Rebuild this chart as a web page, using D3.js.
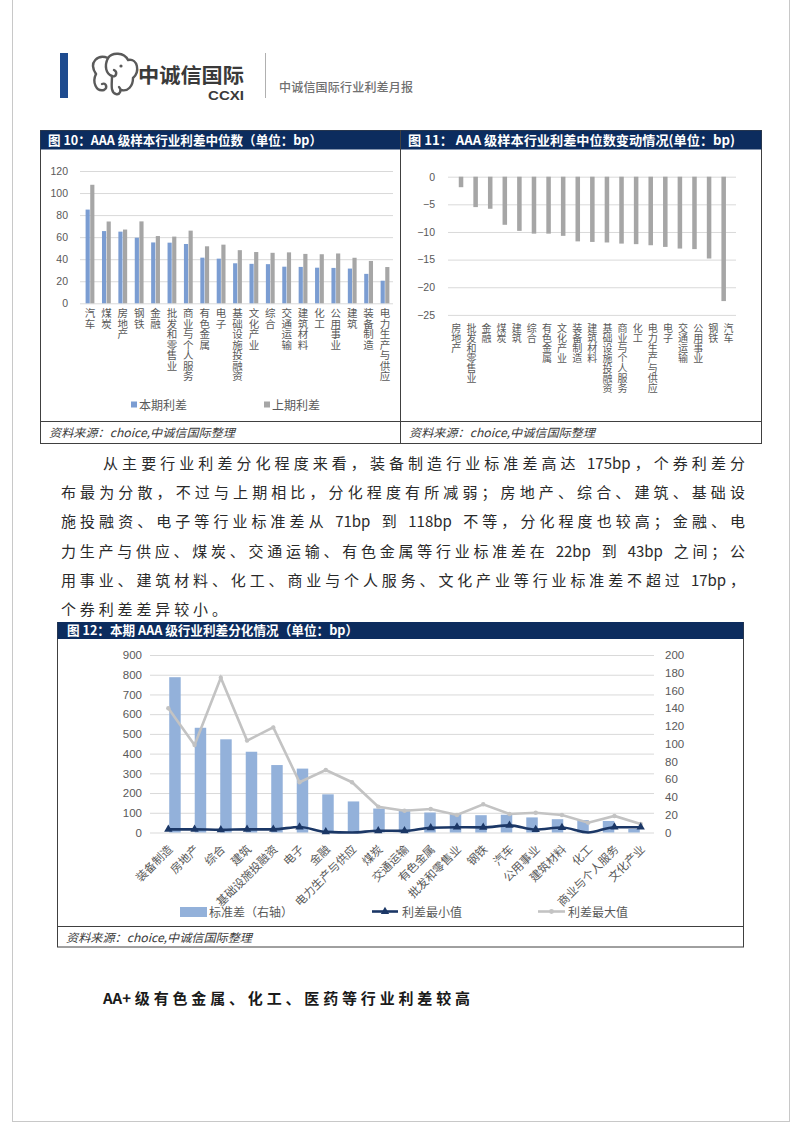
<!DOCTYPE html>
<html><head><meta charset="utf-8">
<script src="https://cdn.jsdelivr.net/npm/d3@7"></script>
<style>body{margin:0;background:#fff} svg{display:block} .vt{writing-mode:vertical-rl;text-orientation:upright}</style>
</head><body><svg id="c" width="802" height="1133"></svg>
<script>
// ---------- data ----------
const cats10 = ["汽车","煤炭","房地产","钢铁","金融","批发和零售业","商业与个人服务","有色金属","电子","基础设施投融资","文化产业","综合","交通运输","建筑材料","化工","公用事业","建筑","装备制造","电力生产与供应"];
const cur10  = [85,65.5,65,59.5,55.2,55,53.8,41.4,40.5,36.3,35.8,35.5,33.2,33,32.3,32.1,31.5,26.7,20.5];
const prev10 = [107.5,74.2,66.9,74.3,61,60.5,65.9,51.7,53.2,48.2,46.5,45.8,46.2,44.8,44.5,45.2,41.3,38.4,32.9];
const ticks10 = [0,20,40,60,80,100,120];
const legend10 = ["本期利差","上期利差"];

const cats11 = ["房地产","批发和零售业","金融","煤炭","建筑","综合","有色金属","文化产业","装备制造","建筑材料","基础设施投融资","商业与个人服务","化工","电力生产与供应","电子","交通运输","公用事业","钢铁","汽车"];
const chg11  = [-1.9,-5.5,-5.8,-8.7,-9.8,-10.3,-10.3,-10.7,-11.7,-11.8,-11.9,-12.1,-12.2,-12.4,-12.7,-13.0,-13.1,-14.8,-22.5];
const ticks11 = [0,-5,-10,-15,-20,-25];

const cats12 = ["装备制造","房地产","综合","建筑","基础设施投融资","电子","金融","电力生产与供应","煤炭","交通运输","有色金属","批发和零售业","钢铁","汽车","公用事业","建筑材料","化工","商业与个人服务","文化产业"];
const std12  = [175,118,105,91,76,72,43,35,27,26,22.5,21,19.5,20,17,15,14,13,4];
const min12  = [16,16,14,16,16,28,3,0,9,8,24,27,26,36,15,25,0,27,27];
const max12  = [630,444,785,466,533,255,317,255,131,110,119,89,143,94,100,89,50,84,43];
const ticksL12 = [0,100,200,300,400,500,600,700,800,900];
const ticksR12 = [0,20,40,60,80,100,120,140,160,180,200];
const legend12 = ["标准差（右轴）","利差最小值","利差最大值"];

const paragraph = [
 "从主要行业利差分化程度来看，装备制造行业标准差高达 175bp，个券利差分",
 "布最为分散，不过与上期相比，分化程度有所减弱；房地产、综合、建筑、基础设",
 "施投融资、电子等行业标准差从 71bp 到 118bp 不等，分化程度也较高；金融、电",
 "力生产与供应、煤炭、交通运输、有色金属等行业标准差在 22bp 到 43bp 之间；公",
 "用事业、建筑材料、化工、商业与个人服务、文化产业等行业标准差不超过 17bp，",
 "个券利差差异较小。"
];
const heading = "AA+级有色金属、化工、医药等行业利差较高";

// ---------- styles ----------
const NAVY = "#0c2c5e", BLUE10 = "#7b9dd2", GRAY10 = "#a6a6a6", BAR12 = "#93b1da";
const CJK = "'Noto Sans CJK SC','Noto Sans',sans-serif";
const NUM = "'Liberation Sans','Noto Sans',sans-serif";
const TXT = "#595959";

const svg = d3.select("#c");

// page frame
svg.append("rect").attr("x",12.5).attr("y",-2).attr("width",777).attr("height",1123.5)
  .attr("fill","none").attr("stroke","#c8c8c8").attr("stroke-width",1);

// ---------- header ----------
svg.append("rect").attr("x",60).attr("y",53).attr("width",8).attr("height",45).attr("fill","#1e4b8f");
const logo = svg.append("g").attr("fill","none").attr("stroke","#5a5a5a").attr("stroke-width",2.4).attr("stroke-linecap","round");
logo.append("path").attr("d","M96,74 C88,62 98,54 108,58 C112,52 124,52 128,60 C138,58 140,72 133,78 C133,86 128,92 121,90");
logo.append("path").attr("d","M108,58 C104,66 106,74 112,76 C116,78 118,72 114,70");
logo.append("path").attr("d","M96,74 C92,82 96,92 104,90 C108,88 106,82 102,84");
logo.append("path").attr("d","M112,76 C112,84 110,92 116,94 C120,95 122,90 119,87");
logo.append("circle").attr("cx",121).attr("cy",66).attr("r",1.6).attr("fill","#5a5a5a").attr("stroke","none");
svg.append("text").attr("x",138).attr("y",83).attr("font-family",CJK).attr("font-size",20).attr("font-weight",700)
  .attr("fill","#3a3a3a").attr("textLength",106).attr("lengthAdjust","spacingAndGlyphs").text("中诚信国际");
svg.append("text").attr("x",208).attr("y",100).attr("font-family",NUM).attr("font-size",12).attr("font-weight",700)
  .attr("fill","#3a3a3a").attr("textLength",36).attr("lengthAdjust","spacingAndGlyphs").text("CCXI");
svg.append("line").attr("x1",265.5).attr("x2",265.5).attr("y1",53).attr("y2",98).attr("stroke","#b0b0b0");
svg.append("text").attr("x",279).attr("y",92).attr("font-family",CJK).attr("font-size",12).attr("font-weight",500)
  .attr("fill","#707070").attr("textLength",134).text("中诚信国际行业利差月报");

// ---------- helpers ----------
function titleBar(x, y, w, h, label, tx, tlen){
  svg.append("rect").attr("x",x).attr("y",y).attr("width",w).attr("height",h).attr("fill",NAVY);
  svg.append("text").attr("x",tx).attr("y",y+h/2+4.6).attr("font-family",CJK).attr("font-size",13).attr("font-weight",700)
    .attr("fill","#fff").attr("textLength",tlen).attr("lengthAdjust","spacingAndGlyphs").text(label);
}
function source(x, y){
  svg.append("text").attr("x",x).attr("y",y).attr("font-family",CJK).attr("font-size",11.5).attr("font-style","italic")
    .attr("fill","#3a3a3a").text("资料来源：choice,中诚信国际整理")
    .attr("textLength",186).attr("lengthAdjust","spacingAndGlyphs");
}
function vertLabels(g, cats, x, top, fs){
  g.selectAll(null).data(cats).join("text").attr("class","vt")
    .attr("x",d=>x(d)+x.bandwidth()/2).attr("y",top)
    .attr("font-family",CJK).attr("font-size",fs).attr("fill",TXT).text(d=>d);
}
// justify a line: CJK chars & punctuation as single units, ASCII words kept together
function justify(str, x0, x1, y, attrs, gapOverride){
  const t = svg.append("text").attr("y",y);
  Object.entries(attrs).forEach(([k,v])=>t.attr(k,v));
  const units = str.match(/[A-Za-z0-9+]+| |./gu);
  const spans = units.map(u=>t.append("tspan").text(u));
  const widths = spans.map(s=>s.node().getComputedTextLength());
  const total = d3.sum(widths);
  const gap = gapOverride!=null ? gapOverride : (x1-x0-total)/(units.length-1);
  let cx = x0;
  spans.forEach((s,i)=>{ s.attr("x",cx); cx += widths[i]+gap; });
  return gap;
}

// ---------- boxes for charts 10 & 11 ----------
svg.append("rect").attr("x",40.5).attr("y",130.5).attr("width",721).attr("height",313).attr("fill","none").attr("stroke","#404040");
svg.append("line").attr("x1",400.5).attr("x2",400.5).attr("y1",130).attr("y2",444).attr("stroke","#404040");
svg.append("line").attr("x1",40).attr("x2",762).attr("y1",421.5).attr("y2",421.5).attr("stroke","#404040");
titleBar(40.5,130.5,359.5,19,"图 10：AAA 级样本行业利差中位数（单位：bp）",48,274);
titleBar(401,130.5,360.5,19,"图 11：  AAA 级样本行业利差中位数变动情况(单位：bp)",408,327);
source(49,437);
source(409,437);

// ---------- chart 10 ----------
const x10 = d3.scaleBand().domain(cats10).range([81.8,393.2]);
const y10 = d3.scaleLinear().domain([0,120]).range([303.3,171]);
const sub10 = d3.scaleBand().domain(["cur","prev"]).range([-4.4,4.4]).paddingInner(0.1);
const ax10 = svg.append("g").attr("transform","translate(80,0)")
  .call(d3.axisLeft(y10).tickValues(ticks10).tickSize(-313).tickPadding(12));
ax10.select(".domain").remove();
ax10.selectAll("line").attr("stroke","#d9d9d9");
ax10.selectAll("text").attr("font-family",NUM).attr("font-size",10.5).attr("fill",TXT);
const g10 = svg.append("g");
g10.selectAll(".b1").data(cats10).join("rect")
  .attr("x",d=>x10(d)+x10.bandwidth()/2+sub10("cur")).attr("width",sub10.bandwidth())
  .attr("y",(d,i)=>y10(cur10[i])).attr("height",(d,i)=>y10(0)-y10(cur10[i])).attr("fill",BLUE10);
g10.selectAll(".b2").data(cats10).join("rect")
  .attr("x",d=>x10(d)+x10.bandwidth()/2+sub10("prev")).attr("width",sub10.bandwidth())
  .attr("y",(d,i)=>y10(prev10[i])).attr("height",(d,i)=>y10(0)-y10(prev10[i])).attr("fill",GRAY10);
vertLabels(g10,cats10,x10,308,10.5);
// legend 10
[[BLUE10,131,legend10[0]],[GRAY10,264,legend10[1]]].forEach(([col,lx,lab])=>{
  svg.append("rect").attr("x",lx).attr("y",401.5).attr("width",6).attr("height",6).attr("fill",col);
  svg.append("text").attr("x",lx+8).attr("y",409.5).attr("font-family",CJK).attr("font-size",12).attr("fill",TXT).text(lab);
});

// ---------- chart 11 ----------
const x11 = d3.scaleBand().domain(cats11).range([448.7,736]).padding(0.69);
const x11c = d3.scaleBand().domain(cats11).range([448.7,736]);
const y11 = d3.scaleLinear().domain([-25,0]).range([314.9,176.7]);
const ax11 = svg.append("g").attr("transform","translate(448,0)")
  .call(d3.axisLeft(y11).tickValues(ticks11).tickSize(-288).tickPadding(13));
ax11.select(".domain").remove();
ax11.selectAll("line").attr("stroke","#d9d9d9");
ax11.selectAll("text").attr("font-family",NUM).attr("font-size",10.5).attr("fill",TXT);
const g11 = svg.append("g");
g11.selectAll("rect").data(cats11).join("rect")
  .attr("x",d=>x11(d)).attr("width",x11.bandwidth())
  .attr("y",y11(0)).attr("height",(d,i)=>y11(chg11[i])-y11(0)).attr("fill",GRAY10);
vertLabels(g11,cats11,x11c,323,10);

// ---------- paragraph ----------
const pAttrs = {"font-family":CJK,"font-size":15,"fill":"#2a2a2a"};
let lastGap = 4;
paragraph.forEach((line,i)=>{
  const y = 469+i*29.2;
  if(i<paragraph.length-1) lastGap = justify(line, i===0?103:61, 745, y, pAttrs);
  else justify(line, 61, 745, y, pAttrs, lastGap);
});

// ---------- chart 12 ----------
svg.append("rect").attr("x",57.5).attr("y",622.5).attr("width",686).attr("height",324.5).attr("fill","none").attr("stroke","#404040");
svg.append("line").attr("x1",57).attr("x2",744).attr("y1",926.5).attr("y2",926.5).attr("stroke","#404040");
titleBar(57.5,622,686,17,"图 12：本期 AAA 级行业利差分化情况（单位：bp）",67,291);
source(66,942);

const x12 = d3.scaleBand().domain(cats12).range([155.2,653.8]).padding(0.55);
const x12c = d3.scaleBand().domain(cats12).range([155.2,653.8]);
const yL = d3.scaleLinear().domain([0,900]).range([832.5,655]);
const yR = d3.scaleLinear().domain([0,200]).range([832.5,655]);
const axL = svg.append("g").attr("transform","translate(150,0)")
  .call(d3.axisLeft(yL).tickValues(ticksL12).tickSize(-504).tickPadding(8));
axL.select(".domain").remove();
axL.selectAll("line").attr("stroke","#d9d9d9");
axL.selectAll("text").attr("font-family",NUM).attr("font-size",11.5).attr("fill",TXT);
const axR = svg.append("g").attr("transform","translate(654,0)")
  .call(d3.axisRight(yR).tickValues(ticksR12).tickSize(0).tickPadding(11));
axR.select(".domain").remove();
axR.selectAll("text").attr("font-family",NUM).attr("font-size",11.5).attr("fill",TXT);

const g12 = svg.append("g");
g12.selectAll("rect").data(cats12).join("rect")
  .attr("x",d=>x12(d)).attr("width",x12.bandwidth())
  .attr("y",(d,i)=>yR(std12[i])).attr("height",(d,i)=>yR(0)-yR(std12[i])).attr("fill",BAR12);
const cx12 = d=>x12c(d)+x12c.bandwidth()/2;
const lineMax = d3.line().x((d,i)=>cx12(cats12[i])).y(d=>yL(d));
const lineMin = d3.line().x((d,i)=>cx12(cats12[i])).y(d=>yL(d)).curve(d3.curveMonotoneX);
g12.append("path").attr("d",lineMax(max12)).attr("fill","none").attr("stroke","#c3c3c3").attr("stroke-width",2.6);
g12.selectAll(".mx").data(max12).join("circle").attr("cx",(d,i)=>cx12(cats12[i])).attr("cy",d=>yL(d))
  .attr("r",2.2).attr("fill","#c3c3c3");
g12.append("path").attr("d",lineMin(min12)).attr("fill","none").attr("stroke","#1b3766").attr("stroke-width",2.6);
const tri = d3.symbol().type(d3.symbolTriangle).size(30);
g12.selectAll(".mn").data(min12.map((v,i)=>[v,i]).filter(d=>d[0]>0)).join("path")
  .attr("d",tri).attr("transform",d=>`translate(${cx12(cats12[d[1]])},${yL(d[0])})`).attr("fill","#1b3766");
svg.append("g").selectAll("text").data(cats12).join("text")
  .attr("transform",d=>`translate(${cx12(d)+5},850) rotate(-45)`).attr("text-anchor","end")
  .attr("font-family",CJK).attr("font-size",11.5).attr("fill",TXT).text(d=>d);
// legend 12
svg.append("rect").attr("x",180).attr("y",907).attr("width",27).attr("height",10).attr("fill",BAR12);
svg.append("text").attr("x",209).attr("y",916.5).attr("font-family",CJK).attr("font-size",12).attr("fill",TXT).text(legend12[0]);
svg.append("line").attr("x1",372).attr("x2",398).attr("y1",911.5).attr("y2",911.5).attr("stroke","#1b3766").attr("stroke-width",2.6);
svg.append("path").attr("d",tri).attr("transform","translate(385,911.5)").attr("fill","#1b3766");
svg.append("text").attr("x",402).attr("y",916.5).attr("font-family",CJK).attr("font-size",12).attr("fill",TXT).text(legend12[1]);
svg.append("line").attr("x1",538).attr("x2",565).attr("y1",911.5).attr("y2",911.5).attr("stroke","#c3c3c3").attr("stroke-width",2.6);
svg.append("circle").attr("cx",551.5).attr("cy",911.5).attr("r",2.4).attr("fill","#c3c3c3");
svg.append("text").attr("x",568).attr("y",916.5).attr("font-family",CJK).attr("font-size",12).attr("fill",TXT).text(legend12[2]);

// ---------- heading ----------
justify(heading, 103, 470, 1004, {"font-family":CJK,"font-size":15,"font-weight":700,"fill":"#1a1a1a"});
</script></body></html>
